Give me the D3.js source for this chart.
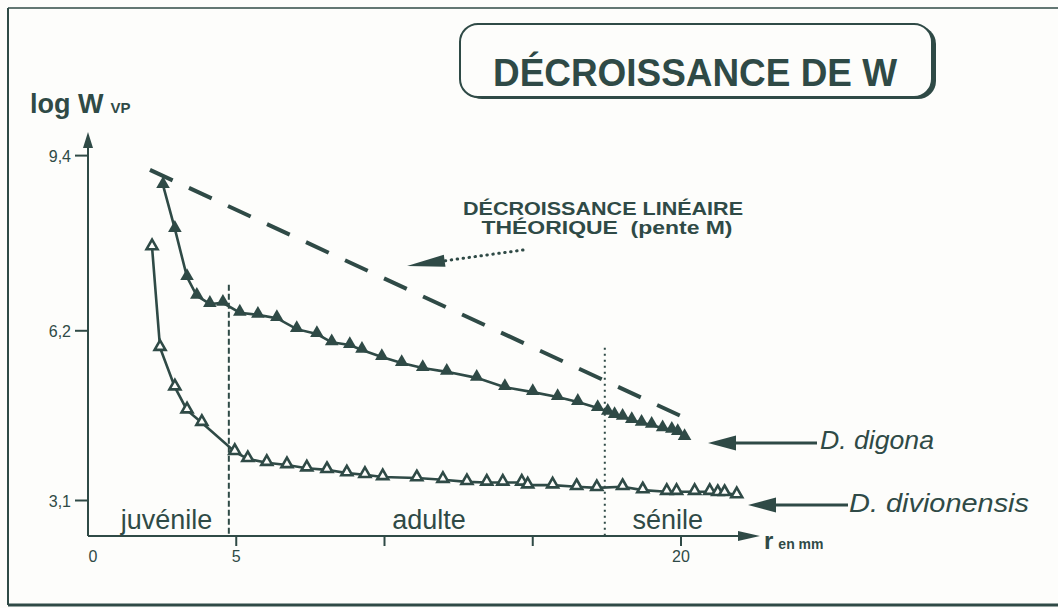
<!DOCTYPE html>
<html>
<head>
<meta charset="utf-8">
<script src="https://cdn.jsdelivr.net/npm/d3@7"></script>
<style>
  html, body { margin: 0; padding: 0; background: #fdfdfb; }
  svg { display: block; }
  text { font-family: "Liberation Sans", Arial, Helvetica, sans-serif; fill: #2f4a46; }
</style>
</head>
<body>
<svg id="chart" width="1058" height="608"></svg>
<script>
// Diameter r (mm) and log W values for the two species
const digonaR = [2.53, 2.93, 3.34, 3.67, 4.11, 4.55, 5.12, 5.73, 6.37, 7.04, 7.72, 8.22, 8.83, 9.24, 9.91,
  10.58, 11.29, 12.10, 13.11, 14.06, 15.00, 15.84, 16.52, 17.19, 17.53, 17.76, 18.03, 18.34, 18.67,
  19.01, 19.38, 19.69, 19.89, 20.12];
const digonaW = [8.86, 8.06, 7.18, 6.84, 6.69, 6.71, 6.53, 6.49, 6.43, 6.23, 6.14, 5.99, 5.94, 5.85, 5.72,
  5.61, 5.52, 5.45, 5.34, 5.17, 5.08, 4.99, 4.90, 4.79, 4.72, 4.66, 4.63, 4.57, 4.52,
  4.48, 4.42, 4.39, 4.35, 4.26];

const divionR = [2.16, 2.43, 2.93, 3.34, 3.84, 4.95, 5.39, 6.03, 6.71, 7.38, 8.06, 8.73, 9.34, 9.94,
  11.09, 11.97, 12.78, 13.45, 13.99, 14.63, 14.83, 15.67, 16.48, 17.16, 18.03, 18.71, 19.52, 19.85,
  20.46, 20.97, 21.24, 21.47, 21.88];
const divionW = [7.73, 5.89, 5.17, 4.75, 4.52, 3.99, 3.86, 3.79, 3.75, 3.69, 3.66, 3.60, 3.57, 3.53,
  3.51, 3.48, 3.44, 3.43, 3.43, 3.43, 3.38, 3.38, 3.35, 3.33, 3.35, 3.29, 3.26, 3.26,
  3.26, 3.26, 3.24, 3.24, 3.20];

// Theoretical linear decrease (slope M)
const theoryR = [2.09, 20.29];
const theoryW = [9.14, 4.57];

// Axis ticks
const xTicks = [0, 5, 10, 15, 20];
const xTickLabels = ["0", "5", "", "", "20"];
const yTicks = [9.4, 6.2, 3.1];
const yTickLabels = ["9,4", "6,2", "3,1"];

// Growth stages and their boundaries
const stageNames = ["juvénile", "adulte", "sénile"];
const stageCentres = [2.65, 11.5, 19.55];
const stageBounds = [4.75, 17.43];
const stageBoundTops = [7.04, 5.89];

const ink = "#2f4a46";
const svg = d3.select("#chart");

const x = d3.scaleLinear().domain([0, 20]).range([88, 681]);
const y = d3.scaleLinear().domain([3.1, 9.4]).range([500.5, 155.6]);
const axisY = 536;

// outer frame
svg.append("line").attr("x1", 8).attr("y1", 8).attr("x2", 1058).attr("y2", 8)
  .attr("stroke", ink).attr("stroke-width", 1.5);
svg.append("line").attr("x1", 8).attr("y1", 8).attr("x2", 8).attr("y2", 605)
  .attr("stroke", ink).attr("stroke-width", 2);
svg.append("line").attr("x1", 8).attr("y1", 605).attr("x2", 1058).attr("y2", 605)
  .attr("stroke", ink).attr("stroke-width", 3);

function arrow(x1, y1, x2, y2, len, half, width, dash) {
  const dx = x2 - x1, dy = y2 - y1, d = Math.hypot(dx, dy);
  const ux = dx / d, uy = dy / d;
  const bx = x2 - ux * len, by = y2 - uy * len;
  const shaft = svg.append("line").attr("x1", x1).attr("y1", y1)
    .attr("x2", bx + ux * 2).attr("y2", by + uy * 2)
    .attr("stroke", ink).attr("stroke-width", width);
  if (dash) shaft.attr("stroke-dasharray", dash).attr("stroke-linecap", "round");
  svg.append("polygon")
    .attr("points", [[x2, y2], [bx - uy * half, by + ux * half], [bx + uy * half, by - ux * half]].join(" "))
    .attr("fill", ink);
}

// title box with shadow
const tb = { x: 460, y: 24, w: 472, h: 73, r: 18 };
svg.append("rect").attr("x", tb.x + 4).attr("y", tb.y + 2).attr("width", tb.w).attr("height", tb.h)
  .attr("rx", tb.r).attr("fill", ink);
svg.append("rect").attr("x", tb.x).attr("y", tb.y).attr("width", tb.w).attr("height", tb.h)
  .attr("rx", tb.r).attr("fill", "#fdfdfb").attr("stroke", ink).attr("stroke-width", 2);
svg.append("text").attr("x", 695).attr("y", 86).attr("text-anchor", "middle")
  .attr("font-size", 38).attr("font-weight", "bold").attr("textLength", 404)
  .attr("lengthAdjust", "spacingAndGlyphs").text("DÉCROISSANCE DE W");

// y axis title
const yt = svg.append("text").attr("x", 30).attr("y", 113).attr("font-weight", "bold");
yt.append("tspan").attr("font-size", 27).text("log W");
yt.append("tspan").attr("font-size", 15).attr("dx", 7).text("VP");

// axes
arrow(x(0), axisY, x(0), 132, 16, 5, 2);
arrow(x(0), axisY, 760, axisY, 22, 5, 2);

svg.selectAll(".ytick").data(yTicks).enter().append("line")
  .attr("x1", x(0) - 13).attr("x2", x(0)).attr("y1", d => y(d)).attr("y2", d => y(d))
  .attr("stroke", ink).attr("stroke-width", 2);
svg.selectAll(".ylab").data(yTicks).enter().append("text")
  .attr("x", x(0) - 17).attr("y", d => y(d) + 6).attr("text-anchor", "end")
  .attr("font-size", 16).text((d, i) => yTickLabels[i]);

svg.selectAll(".xtick").data(xTicks.slice(1)).enter().append("line")
  .attr("x1", d => x(d)).attr("x2", d => x(d)).attr("y1", axisY).attr("y2", axisY + 10)
  .attr("stroke", ink).attr("stroke-width", 2);
svg.selectAll(".xlab").data(xTicks).enter().append("text")
  .attr("x", d => x(d) + (d === 0 ? 5 : 0)).attr("y", 562).attr("text-anchor", "middle")
  .attr("font-size", 16).text((d, i) => xTickLabels[i]);

const xl = svg.append("text").attr("x", 764).attr("y", 549).attr("font-weight", "bold");
xl.append("tspan").attr("font-size", 24).text("r");
xl.append("tspan").attr("font-size", 14).attr("dx", 5).text("en mm");

// stage boundaries
svg.append("line").attr("x1", x(stageBounds[0])).attr("x2", x(stageBounds[0]))
  .attr("y1", y(stageBoundTops[0])).attr("y2", axisY)
  .attr("stroke", ink).attr("stroke-width", 2).attr("stroke-dasharray", "6,3");
svg.append("line").attr("x1", x(stageBounds[1])).attr("x2", x(stageBounds[1]))
  .attr("y1", y(stageBoundTops[1])).attr("y2", axisY)
  .attr("stroke", ink).attr("stroke-width", 2).attr("stroke-dasharray", "2,4");

svg.selectAll(".stage").data(stageNames).enter().append("text")
  .attr("x", (d, i) => x(stageCentres[i])).attr("y", 529).attr("text-anchor", "middle")
  .attr("font-size", 27).text(d => d);

// theoretical dashed line
svg.append("line").attr("x1", x(theoryR[0])).attr("y1", y(theoryW[0]))
  .attr("x2", x(theoryR[1])).attr("y2", y(theoryW[1]))
  .attr("stroke", ink).attr("stroke-width", 4).attr("stroke-dasharray", "25,18");

// curves
const line = d3.line().x(d => x(d[0])).y(d => y(d[1]));
const digona = d3.zip(digonaR, digonaW);
const divion = d3.zip(divionR, divionW);
svg.append("path").datum(digona).attr("d", line).attr("fill", "none")
  .attr("stroke", ink).attr("stroke-width", 2.6);
svg.append("path").datum(divion).attr("d", line).attr("fill", "none")
  .attr("stroke", ink).attr("stroke-width", 2.6);

const tri = d3.symbol().type(d3.symbolTriangle);
svg.selectAll(".fill-tri").data(digona).enter().append("path")
  .attr("d", tri.size(80)()).attr("transform", d => `translate(${x(d[0])},${y(d[1]) - 1})`)
  .attr("fill", ink);
svg.selectAll(".open-tri").data(divion).enter().append("path")
  .attr("d", tri.size(52)()).attr("transform", d => `translate(${x(d[0])},${y(d[1]) - 1})`)
  .attr("fill", "#fdfdfb").attr("stroke", ink).attr("stroke-width", 2.6);

// annotation for the theoretical line
const ann = svg.append("g").attr("font-weight", "bold").attr("font-size", 18);
ann.append("text").attr("x", 603).attr("y", 215).attr("text-anchor", "middle")
  .attr("textLength", 280).attr("lengthAdjust", "spacingAndGlyphs").text("DÉCROISSANCE LINÉAIRE");
ann.append("text").attr("x", 607).attr("y", 234).attr("text-anchor", "middle")
  .attr("textLength", 251).attr("lengthAdjust", "spacingAndGlyphs").text("THÉORIQUE\u00a0\u00a0(pente M)");
arrow(523, 250, 407, 266, 38, 6, 3, "0.5,5.5");

// species labels
arrow(817, 443, 708, 443, 28, 7.5, 3);
arrow(848, 505, 748, 505, 28, 7.5, 3);
svg.append("text").attr("x", 820).attr("y", 449).attr("font-size", 25).attr("font-style", "italic")
  .attr("textLength", 114).attr("lengthAdjust", "spacingAndGlyphs").text("D. digona");
svg.append("text").attr("x", 849).attr("y", 512).attr("font-size", 25).attr("font-style", "italic")
  .attr("textLength", 180).attr("lengthAdjust", "spacingAndGlyphs").text("D. divionensis");
</script>
</body>
</html>
